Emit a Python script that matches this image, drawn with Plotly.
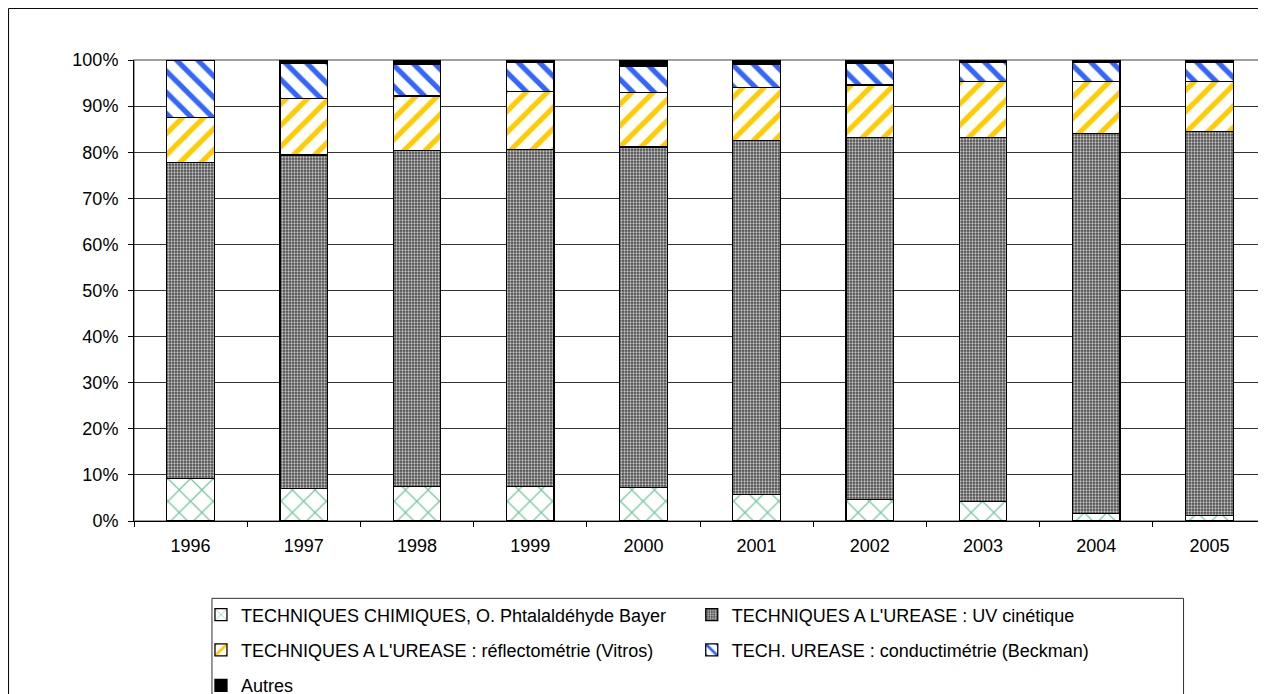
import plotly.graph_objects as go

# Share of each urea method per year (in %)
years = ["1996", "1997", "1998", "1999", "2000", "2001", "2002", "2003", "2004", "2005"]
chimiques = [9.2, 7.0, 7.5, 7.5, 7.3, 5.8, 4.6, 4.2, 1.6, 1.2]
uv_cinetique = [68.6, 72.4, 72.8, 73.1, 73.8, 76.8, 78.6, 79.0, 82.4, 83.3]
vitros = [9.8, 12.3, 11.9, 12.5, 11.8, 11.5, 11.4, 12.1, 11.4, 10.9]
beckman = [12.4, 7.6, 6.9, 6.4, 5.7, 5.0, 4.7, 4.1, 4.0, 4.0]
autres = [0.0, 0.7, 0.9, 0.5, 1.4, 0.9, 0.7, 0.6, 0.6, 0.6]

names = [
    "TECHNIQUES CHIMIQUES, O. Phtalaldéhyde Bayer",
    "TECHNIQUES A L'UREASE : UV cinétique",
    "TECHNIQUES A L'UREASE : réflectométrie (Vitros)",
    "TECH. UREASE : conductimétrie (Beckman)",
    "Autres",
]

W, H = 1266, 694
L, R, T, B = 126, 7.5, 52, 181.3
PW, PH = W - L - R, H - T - B


def px_x(x):
    return (x - L) / PW


def px_y(y):
    return (H - B - y) / PH


FONT = "Liberation Sans, Arial, sans-serif"

styles = [
    dict(shape="x", fgcolor="#74c99c", bgcolor="white", size=16, solidity=0.15),
    dict(shape=".", fgcolor="#c4c4c4", bgcolor="#4a4a4a", size=3, solidity=0.45),
    dict(shape="/", fgcolor="#ffcc00", bgcolor="white", size=15, solidity=0.35),
    dict(shape="\\", fgcolor="#3366ff", bgcolor="white", size=15, solidity=0.35),
    None,
]
series = [chimiques, uv_cinetique, vitros, beckman, autres]
# Excel lays the legend out in two columns: items 0, 2, 4 left / 1, 3 right
legend_of = ["legend", "legend2", "legend", "legend2", "legend"]

fig = go.Figure()
for i, (name, vals, st) in enumerate(zip(names, series, styles)):
    marker = dict(line=dict(color="black", width=1.3))
    if st is None:
        marker["color"] = "black"
    else:
        marker["color"] = st["bgcolor"]
        marker["pattern"] = dict(fillmode="replace", **st)
    fig.add_trace(go.Bar(
        x=years, y=vals, name=name, marker=marker,
        legend=legend_of[i], legendgroup=f"g{i}",
    ))

fig.update_layout(
    width=W, height=H,
    margin=dict(l=L, r=R, t=T, b=B, autoexpand=False),
    barmode="stack",
    bargap=0.58,
    paper_bgcolor="white",
    plot_bgcolor="white",
    font=dict(family=FONT, size=18, color="black"),
    legend=dict(
        x=px_x(193), y=px_y(588), xanchor="left", yanchor="top",
        orientation="v", traceorder="grouped", tracegroupgap=9,
        bgcolor="rgba(0,0,0,0)", font=dict(size=18),
    ),
    legend2=dict(
        x=px_x(684), y=px_y(588), xanchor="left", yanchor="top",
        orientation="v", traceorder="grouped", tracegroupgap=9,
        bgcolor="rgba(0,0,0,0)", font=dict(size=18),
    ),
    xaxis=dict(
        type="category", tickson="boundaries", ticks="outside", ticklen=5,
        tickcolor="black", showline=True, linecolor="black", linewidth=1,
        showgrid=False, tickfont=dict(size=18), ticklabelstandoff=8,
    ),
    yaxis=dict(
        range=[0, 100], dtick=10, ticksuffix="%", ticks="outside", ticklen=5,
        tickcolor="black", showline=True, linecolor="black", linewidth=1,
        showgrid=True, gridcolor="#333333", gridwidth=1, zeroline=False,
        tickfont=dict(size=18), ticklabelstandoff=6,
    ),
    shapes=[
        # gray frame of the plot area (top / right edges visible)
        dict(type="rect", xref="paper", yref="paper", x0=0, x1=1, y0=0, y1=1,
             line=dict(color="#808080", width=1.5), layer="below"),
        # legend box (runs down to the bottom edge)
        dict(type="rect", xref="paper", yref="paper",
             x0=px_x(204), x1=px_x(1176), y0=px_y(590), y1=px_y(693.5),
             line=dict(color="#333333", width=1)),
        # outer chart border
        dict(type="rect", xref="paper", yref="paper",
             x0=px_x(0.5), x1=px_x(1265.5), y0=px_y(0.5), y1=px_y(693.5),
             line=dict(color="black", width=1)),
    ],
)

fig.write_html("out.html")
